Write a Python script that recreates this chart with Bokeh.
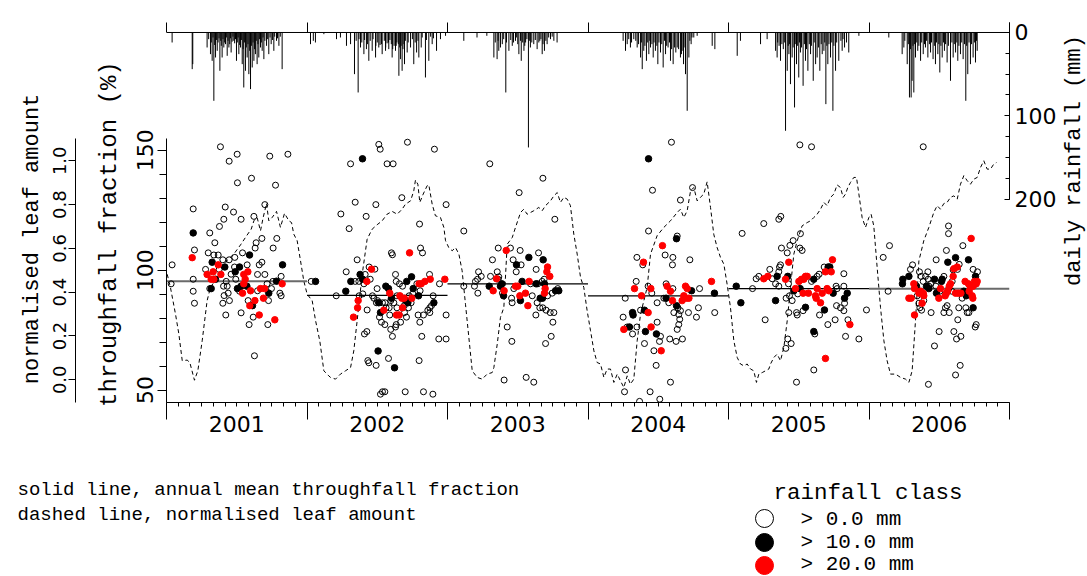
import math
from bokeh.plotting import figure
from bokeh.models import (Range1d, LinearAxis, FixedTicker, SingleIntervalTicker,
                          PrintfTickFormatter)
from bokeh.layouts import column, row
from bokeh.embed import file_html
from bokeh.resources import INLINE
from bokeh.core.properties import value

# ---------------- data ----------------
YEARS = [2001, 2002, 2003, 2004, 2005, 2006]
YEAR_LABEL_POS = [2001.5, 2002.5, 2003.5, 2004.5, 2005.5, 2006.5]
ANNUAL_MEAN_TF = [95.4, 89.5, 94.3, 89.3, 92.3, 92.2]
LEAF_TICKS = [0.0, 0.2, 0.4, 0.6, 0.8, 1.0]
RAIN_TICKS = [0, 100, 200]

# throughfall fraction (%) per event, rainfall class > 0 mm
OPEN_PTS = [
    (2001.384,151.4),(2001.446,145.4),(2001.503,148.3),(2001.735,147.5),(2001.864,148.3),
    (2001.505,136.4),(2001.605,138.3),(2001.776,135.4),(2001.190,125.5),(2001.418,126.3),
    (2001.477,124.2),(2001.700,127.3),(2001.408,121.2),(2001.531,121.2),(2001.622,122.4),
    (2001.377,118.2),(2001.308,115.5),(2001.344,111.4),(2001.679,113.2),(2001.785,113.2),
    (2001.638,111.4),(2001.199,108.4),(2001.631,109.2),(2001.759,109.2),(2001.541,107.2),
    (2001.297,107.2),(2001.337,106.3),(2001.368,106.3),(2001.401,104.3),(2001.446,104.3),
    (2001.486,105.3),(2001.484,101.3),(2001.574,102.2),(2001.660,102.2),(2001.679,103.3),
    (2001.040,102.2),(2001.278,100.3),(2001.375,100.3),(2001.460,98.3),(2001.190,96.2),
    (2001.493,96.2),(2001.648,98.2),(2001.700,98.2),(2001.816,97.4),(2001.757,95.3),
    (2001.716,94.3),(2001.425,95.3),(2001.033,94.3),(2001.308,92.3),(2001.406,93.3),
    (2001.432,93.3),(2001.520,91.2),(2001.648,91.4),(2001.747,92.3),(2001.807,90.4),
    (2001.816,89.3),(2001.190,91.2),(2001.439,90.4),(2001.410,89.4),(2001.581,87.3),
    (2001.726,87.3),(2001.199,86.2),(2001.401,86.2),(2001.448,87.3),(2001.603,85.2),
    (2001.422,81.3),(2001.531,82.2),(2001.617,80.4),(2001.588,77.3),(2001.721,77.3),
    (2001.626,64.3),
    (2002.030,95.3),
    (2002.511,152.4),(2002.521,150.4),(2002.715,153.3),(2002.907,150.4),
    (2002.310,144.3),(2002.570,144.3),(2002.613,144.3),(2002.675,130.2),
    (2002.343,128.3),(2002.490,127.3),(2002.990,127.3),(2002.241,123.4),(2002.421,122.4),
    (2002.801,119.2),(2002.300,117.3),(2002.601,107.2),(2002.608,106.4),(2002.808,109.2),
    (2002.822,107.2),(2002.357,104.3),(2002.442,101.3),(2002.483,100.4),(2002.279,99.3),
    (2002.414,98.2),(2002.450,96.2),(2002.343,95.3),(2002.369,95.3),(2002.405,94.3),
    (2002.630,98.2),(2002.635,95.3),(2002.658,94.3),(2002.680,93.3),(2002.943,94.3),
    (2002.872,98.2),(2002.782,94.3),(2002.499,92.3),(2002.208,89.3),
    (2002.397,90.1),(2002.371,89.3),(2002.476,88.3),(2002.502,87.3),(2002.466,89.3),
    (2002.640,89.3),(2002.727,89.3),(2002.753,90.1),(2002.805,91.4),(2002.898,89.3),
    (2002.596,87.3),(2002.428,83.4),
    (2002.494,86.4),(2002.537,86.4),(2002.556,86.4),(2002.563,84.3),(2002.585,84.3),
    (2002.618,86.4),(2002.640,84.3),(2002.692,85.2),(2002.722,84.3),(2002.741,86.4),
    (2002.874,84.3),(2002.860,83.3),(2002.886,85.2),
    (2002.516,80.4),(2002.589,81.3),(2002.694,82.3),(2002.708,80.4),(2002.791,81.3),
    (2002.829,81.3),(2002.874,82.3),(2002.990,81.3),
    (2002.530,78.3),(2002.554,77.3),(2002.635,77.3),(2002.666,78.3),(2002.803,78.3),
    (2002.596,75.3),(2002.630,76.3),(2002.409,73.4),(2002.426,74.4),(2002.608,72.4),
    (2002.817,72.4),(2002.938,71.3),(2002.990,71.3),
    (2002.433,62.3),(2002.440,61.4),(2002.492,60.3),(2002.580,63.2),(2002.798,62.3),
    (2002.523,48.3),(2002.537,49.3),(2002.554,49.3),(2002.699,49.3),(2002.829,49.3),
    (2002.896,48.3),
    (2003.301,144.3),(2003.116,116.3),(2003.320,104.3),(2003.361,109.2),(2003.116,93.3),
    (2003.192,93.3),(2003.199,95.3),(2003.221,99.3),(2003.240,97.4),(2003.214,96.2),
    (2003.216,90.4),(2003.354,99.3),(2003.365,97.2),(2003.361,96.2),(2003.391,90.4),
    (2003.306,97.4),(2003.403,54.2),
    (2003.679,138.3),(2003.510,132.3),(2003.764,121.2),(2003.448,109.2),(2003.517,108.2),
    (2003.648,107.2),(2003.467,104.3),(2003.524,102.2),(2003.631,100.3),(2003.688,96.2),
    (2003.489,99.3),(2003.472,92.3),(2003.591,94.3),(2003.643,94.3),(2003.674,95.3),
    (2003.456,88.3),(2003.460,86.4),(2003.603,89.3),(2003.712,89.3),(2003.745,90.4),
    (2003.785,92.3),(2003.638,86.4),(2003.678,84.3),(2003.657,84.3),(2003.702,83.3),
    (2003.731,82.3),(2003.757,82.3),(2003.629,81.3),(2003.750,78.3),(2003.425,76.3),
    (2003.458,70.3),(2003.738,72.4),(2003.698,69.4),(2003.560,55.3),(2003.614,53.3),
    (2004.594,153.3),(2004.459,133.3),(2004.431,116.3),(2004.549,106.3),(2004.604,105.3),
    (2004.348,105.3),(2004.390,102.2),(2004.343,95.3),(2004.265,88.3),(2004.428,93.3),
    (2004.454,90.4),(2004.492,86.4),(2004.556,94.3),(2004.604,92.3),(2004.540,88.3),
    (2004.575,86.4),(2004.611,82.3),(2004.601,102.2),(2004.374,83.3),(2004.250,80.4),
    (2004.279,76.3),(2004.317,73.4),(2004.348,76.3),(2004.492,78.3),(2004.516,72.4),
    (2004.509,70.3),(2004.469,66.4),(2004.402,69.4),(2004.485,60.3),(2004.582,71.3),
    (2004.267,58.4),(2004.260,49.3),(2004.442,49.3),(2004.367,45.3),(2004.511,46.2),
    (2004.587,53.3),
    (2004.744,134.4),(2004.658,129.2),(2004.635,114.2),(2004.725,104.3),(2004.794,92.3),
    (2004.658,83.1),(2004.646,81.5),(2004.653,79.5),(2004.646,77.3),(2004.635,75.3),
    (2004.715,82.3),(2004.786,84.3),(2004.772,80.4),(2004.902,82.3),(2004.672,71.3),
    (2004.627,70.3),(2004.640,84.3),
    (2005.508,152.2),(2005.591,151.4),(2005.097,115.3),(2005.251,119.4),(2005.358,121.2),
    (2005.372,122.4),(2005.171,92.3),(2005.261,79.3),(2005.197,96.4),(2005.216,97.4),
    (2005.294,100.3),(2005.311,96.4),(2005.335,94.3),(2005.358,99.3),(2005.363,101.3),
    (2005.370,102.2),(2005.377,109.2),(2005.437,110.3),(2005.460,112.3),(2005.418,107.2),
    (2005.427,94.3),(2005.358,93.3),(2005.410,88.3),(2005.434,89.3),(2005.453,87.3),
    (2005.493,90.1),(2005.591,95.3),(2005.631,97.4),(2005.645,98.3),(2005.681,101.3),
    (2005.766,93.3),(2005.773,92.3),(2005.769,85.2),(2005.797,84.3),(2005.821,83.1),
    (2005.821,98.5),(2005.707,77.3),(2005.759,79.3),(2005.531,83.1),(2005.484,82.3),
    (2005.489,81.3),(2005.429,82.3),(2005.614,73.4),(2005.648,81.3),(2005.607,58.4),
    (2005.484,53.3),(2005.422,71.3),(2005.446,69.4),(2005.408,67.4),(2005.512,115.2),
    (2005.524,108.2),(2005.508,109.2),
    (2005.850,79.3),(2005.833,72.4),(2005.928,71.3),(2005.982,83.4),(2005.826,86.2),
    (2005.821,93.3),
    (2006.386,151.4),(2006.101,105.3),(2006.146,110.2),(2006.136,91.2),(2006.295,100.3),
    (2006.310,102.2),(2006.343,89.3),(2006.355,86.2),(2006.362,84.3),(2006.374,83.3),
    (2006.390,87.3),(2006.359,99.3),(2006.371,97.4),(2006.386,95.3),(2006.402,97.4),
    (2006.419,99.3),(2006.426,93.3),(2006.438,94.3),(2006.442,82.3),(2006.421,96.2),
    (2006.476,93.3),(2006.504,91.2),(2006.533,97.4),(2006.568,92.3),(2006.592,95.3),
    (2006.590,91.2),(2006.599,100.1),(2006.630,100.3),(2006.642,102.4),(2006.551,108.2),
    (2006.478,104.3),(2006.566,118.4),(2006.566,115.2),(2006.668,110.2),(2006.741,100.3),
    (2006.772,99.3),(2006.663,88.3),(2006.639,84.3),(2006.689,84.3),(2006.699,82.3),
    (2006.711,82.3),(2006.556,85.2),(2006.544,84.3),(2006.533,82.3),(2006.571,82.3),
    (2006.632,79.3),(2006.604,74.4),(2006.623,71.3),(2006.654,72.4),(2006.499,74.4),
    (2006.466,68.4),(2006.763,77.3),(2006.756,76.3),(2006.649,60.3),(2006.616,56.3),
    (2006.423,52.4),
]

# rainfall class > 10 mm
BLACK_PTS = [
    (2001.190,115.5),(2001.591,106.3),(2001.325,103.3),(2001.415,101.3),(2001.520,101.3),
    (2001.826,102.2),(2001.489,99.3),(2001.349,96.2),(2001.783,95.4),(2001.318,92.3),
    (2001.505,92.3),(2001.531,93.3),(2001.572,93.3),(2001.728,90.4),(2001.612,85.2),
    (2002.061,95.3),(2002.395,146.4),(2002.378,98.2),(2002.312,95.3),(2002.395,96.2),
    (2002.744,97.2),(2002.710,95.3),(2002.561,93.3),(2002.580,92.3),(2002.276,91.2),
    (2002.601,88.3),(2002.703,87.3),(2002.756,92.3),(2002.794,89.3),(2002.511,86.4),
    (2002.523,82.3),(2002.718,86.4),(2002.903,86.4),(2002.506,66.3),(2002.623,59.3),
    (2003.297,93.3),(2003.377,93.3),(2003.387,94.3),(2003.399,89.3),(2003.491,102.2),
    (2003.579,105.3),(2003.681,104.3),(2003.531,95.3),(2003.631,94.3),(2003.690,94.3),
    (2003.519,87.3),(2003.660,88.3),(2003.676,88.3),(2003.769,91.4),(2003.792,91.4),
    (2004.431,146.4),(2004.556,88.3),(2004.317,82.3),(2004.321,81.3),(2004.402,83.3),
    (2004.295,76.3),(2004.409,74.4),(2004.487,73.4),(2004.630,113.1),(2004.737,91.4),
    (2004.900,90.4),(2004.630,85.2),
    (2005.055,93.3),(2005.088,86.4),(2005.346,97.4),(2005.422,97.4),(2005.335,87.3),
    (2005.465,91.4),(2005.510,92.3),(2005.607,96.2),(2005.709,101.3),(2005.721,101.3),
    (2005.745,90.4),(2005.826,88.3),(2005.683,83.4),(2005.548,84.5),(2005.607,74.4),
    (2005.845,90.4),
    (2006.241,96.2),(2006.238,94.3),(2006.284,97.4),(2006.338,93.3),(2006.409,93.3),
    (2006.426,92.3),(2006.466,96.2),(2006.480,90.4),(2006.516,95.3),(2006.521,96.2),
    (2006.616,105.2),(2006.561,103.3),(2006.708,104.3),(2006.758,97.4),(2006.692,89.3),
    (2006.675,91.2),(2006.741,84.3),
]

# rainfall class > 20 mm
RED_PTS = [
    (2001.183,105.2),(2001.368,102.2),(2001.579,99.3),(2001.550,98.2),(2001.289,98.2),
    (2001.332,99.3),(2001.387,98.2),(2001.318,96.2),(2001.337,96.2),(2001.560,96.2),
    (2001.550,94.3),(2001.823,94.3),(2001.541,90.4),(2001.598,91.4),(2001.669,92.3),
    (2001.698,92.3),(2001.690,88.3),(2001.629,87.3),(2001.593,85.2),(2001.660,81.3),
    (2001.771,79.3),
    (2002.730,107.2),(2002.459,100.4),(2002.426,95.3),(2002.798,94.3),(2002.813,94.3),
    (2002.839,95.3),(2002.877,96.2),(2002.981,96.2),(2002.589,90.4),(2002.661,89.3),
    (2002.675,88.3),(2002.692,88.3),(2002.746,88.3),(2002.364,87.3),(2002.360,84.3),
    (2002.331,80.4),(2002.547,83.3),(2002.680,84.3),(2002.637,81.3),(2002.656,81.3),
    (2003.325,91.4),(2003.349,96.4),(2003.403,91.4),(2003.418,108.2),(2003.712,101.3),
    (2003.707,99.3),(2003.728,97.4),(2003.484,93.3),(2003.500,93.3),(2003.581,95.3),
    (2003.695,92.3),(2003.555,90.4),(2003.515,89.3),(2003.572,85.2),(2003.690,90.4),
    (2004.530,110.2),(2004.395,103.3),(2004.331,92.3),(2004.381,89.3),(2004.447,92.3),
    (2004.563,93.3),(2004.587,91.2),(2004.601,87.3),(2004.428,82.3),(2004.255,75.3),
    (2004.449,76.3),(2004.521,66.4),(2004.694,93.3),(2004.706,92.3),(2004.682,89.3),
    (2004.701,88.3),(2004.718,88.3),(2004.670,87.3),(2004.879,95.3),
    (2005.251,96.4),(2005.280,97.4),(2005.406,96.2),(2005.429,103.3),(2005.477,92.3),
    (2005.501,95.3),(2005.520,96.2),(2005.536,96.2),(2005.548,97.4),(2005.560,97.4),
    (2005.531,90.4),(2005.569,90.4),(2005.631,92.3),(2005.619,89.3),(2005.624,88.3),
    (2005.667,90.4),(2005.655,86.4),(2005.690,99.3),(2005.731,99.3),(2005.740,104.3),
    (2005.702,92.3),(2005.714,91.4),(2005.690,63.2),(2005.864,77.3),
    (2006.319,94.3),(2006.324,92.3),(2006.284,88.3),(2006.300,88.3),(2006.355,90.4),
    (2006.367,91.2),(2006.386,90.4),(2006.390,89.3),(2006.378,86.2),(2006.324,81.3),
    (2006.497,88.3),(2006.509,92.3),(2006.542,89.3),(2006.551,90.4),(2006.561,91.4),
    (2006.571,93.3),(2006.580,94.3),(2006.599,97.4),(2006.604,100.6),(2006.628,101.3),
    (2006.727,113.2),(2006.751,95.3),(2006.741,93.3),(2006.763,94.3),(2006.770,95.3),
    (2006.720,93.3),(2006.708,94.3),(2006.684,95.3),(2006.713,91.2),(2006.734,89.3),
    (2006.739,88.3),(2006.654,90.4),(2006.635,90.4),(2006.616,90.4),
]

# normalised leaf amount (dashed line)
LEAF_PTS = [
    (2001.005,.482),(2001.028,.422),(2001.064,.300),(2001.088,.209),(2001.112,.087),
    (2001.147,.090),(2001.166,.079),(2001.199,-.002),(2001.223,.041),(2001.254,.178),
    (2001.289,.361),(2001.313,.422),(2001.361,.467),(2001.432,.546),(2001.479,.574),
    (2001.527,.616),(2001.562,.650),(2001.603,.688),(2001.622,.726),(2001.645,.741),
    (2001.669,.680),(2001.688,.741),(2001.712,.805),(2001.728,.726),(2001.752,.741),
    (2001.783,.769),(2001.811,.696),(2001.840,.760),(2001.871,.726),(2001.890,.718),
    (2001.906,.665),(2001.930,.635),(2001.954,.543),(2001.977,.452),(2002.001,.391),
    (2002.037,.361),(2002.061,.270),(2002.091,.178),(2002.120,.041),(2002.155,.018),
    (2002.167,.011),(2002.203,.003),(2002.238,.026),(2002.274,.041),(2002.310,.056),
    (2002.333,.132),(2002.357,.270),(2002.393,.482),(2002.428,.642),(2002.464,.688),
    (2002.499,.708),(2002.535,.726),(2002.570,.756),(2002.606,.769),(2002.642,.756),
    (2002.677,.779),(2002.701,.802),(2002.737,.817),(2002.760,.863),(2002.772,.912),
    (2002.789,.893),(2002.803,.810),(2002.827,.848),(2002.855,.886),(2002.867,.890),
    (2002.891,.802),(2002.914,.749),(2002.950,.741),(2002.974,.696),(2002.986,.635),
    (2003.009,.604),(2003.033,.589),(2003.057,.604),(2003.081,.574),(2003.104,.498),
    (2003.128,.345),(2003.152,.193),(2003.176,.041),(2003.211,.011),(2003.247,.003),
    (2003.282,.026),(2003.318,.033),(2003.330,.056),(2003.354,.163),(2003.377,.285),
    (2003.401,.330),(2003.425,.619),(2003.461,.650),(2003.484,.696),(2003.520,.764),
    (2003.543,.779),(2003.567,.756),(2003.591,.764),(2003.614,.772),(2003.650,.787),
    (2003.674,.772),(2003.697,.795),(2003.733,.817),(2003.757,.840),(2003.781,.855),
    (2003.804,.810),(2003.828,.833),(2003.852,.825),(2003.875,.795),(2003.899,.665),
    (2003.923,.574),(2003.947,.467),(2003.970,.422),(2003.994,.315),(2004.018,.224),
    (2004.042,.132),(2004.065,.079),(2004.089,.072),(2004.113,.011),(2004.136,.049),
    (2004.160,.049),(2004.184,-.012),(2004.208,.026),(2004.231,-.005),(2004.255,-.035),
    (2004.279,.018),(2004.302,-.020),(2004.326,.003),(2004.350,.178),(2004.374,.300),
    (2004.421,.422),(2004.445,.574),(2004.492,.658),(2004.540,.696),(2004.587,.726),
    (2004.635,.764),(2004.658,.779),(2004.682,.741),(2004.706,.772),(2004.730,.863),
    (2004.753,.878),(2004.777,.817),(2004.800,.833),(2004.824,.848),(2004.848,.904),
    (2004.872,.787),(2004.895,.665),(2004.919,.604),(2004.943,.559),(2004.967,.528),
    (2004.990,.437),(2005.014,.330),(2005.038,.178),(2005.062,.102),(2005.085,.072),
    (2005.109,.064),(2005.133,.072),(2005.157,.049),(2005.180,.041),(2005.199,-.012),
    (2005.216,.026),(2005.240,.033),(2005.263,.041),(2005.287,.049),(2005.299,.072),
    (2005.323,.102),(2005.346,.117),(2005.370,.087),(2005.394,.148),(2005.418,.270),
    (2005.441,.422),(2005.465,.574),(2005.489,.635),(2005.524,.703),(2005.560,.718),
    (2005.584,.726),(2005.607,.741),(2005.631,.756),(2005.655,.779),(2005.679,.810),
    (2005.702,.795),(2005.726,.833),(2005.750,.848),(2005.773,.890),(2005.797,.878),
    (2005.816,.833),(2005.833,.848),(2005.849,.878),(2005.868,.901),(2005.892,.924),
    (2005.911,.924),(2005.928,.848),(2005.951,.741),(2005.975,.696),(2005.999,.741),
    (2006.015,.756),(2006.034,.703),(2006.058,.513),(2006.082,.330),(2006.106,.178),
    (2006.129,.087),(2006.153,.026),(2006.189,.026),(2006.224,.011),(2006.260,.003),
    (2006.284,-.012),(2006.307,.041),(2006.331,.270),(2006.355,.543),(2006.390,.635),
    (2006.426,.696),(2006.461,.764),(2006.485,.795),(2006.509,.779),(2006.533,.805),
    (2006.556,.810),(2006.580,.833),(2006.604,.840),(2006.628,.825),(2006.651,.893),
    (2006.675,.932),(2006.699,.909),(2006.722,.893),(2006.746,.916),(2006.770,.924),
    (2006.794,.970),(2006.817,1.000),(2006.841,.962),(2006.865,.962),(2006.888,.985),
    (2006.907,.992),
]

# daily rainfall (mm)
RAIN_PTS = [
    (2001.040,12),(2001.183,44),(2001.187,38),(2001.289,18),(2001.313,26),(2001.325,34),
    (2001.337,82),(2001.349,30),(2001.361,22),(2001.380,46),(2001.396,30),(2001.408,18),
    (2001.420,14),(2001.432,28),(2001.444,18),(2001.460,24),(2001.479,10),(2001.498,34),
    (2001.515,26),(2001.527,18),(2001.539,38),(2001.550,66),(2001.562,46),(2001.574,30),
    (2001.586,50),(2001.598,68),(2001.610,42),(2001.622,34),(2001.633,26),(2001.645,38),
    (2001.657,30),(2001.669,18),(2001.681,22),(2001.693,32),(2001.712,16),(2001.728,26),
    (2001.745,14),(2001.764,22),(2001.783,10),(2001.800,16),(2001.823,44),
    (2001.300,8),(2001.319,12),(2001.331,6),(2001.343,15),(2001.355,9),(2001.367,12),
    (2001.374,7),(2001.386,10),(2001.390,16),(2001.402,8),(2001.414,12),(2001.426,6),
    (2001.438,10),(2001.450,14),(2001.455,7),(2001.467,11),(2001.473,5),(2001.485,13),
    (2001.491,8),(2001.504,12),(2001.510,6),(2001.521,15),(2001.533,9),(2001.545,20),
    (2001.556,12),(2001.568,18),(2001.580,14),(2001.592,22),(2001.604,16),(2001.616,12),
    (2001.627,20),(2001.639,10),(2001.651,14),(2001.663,8),(2001.675,12),(2001.687,6),
    (2001.700,10),(2001.720,8),(2001.737,6),(2001.755,9),(2001.770,5),(2001.790,7),
    (2001.810,5),
    (2002.025,14),(2002.045,10),(2002.060,12),(2002.120,2),
    (2002.210,8),(2002.238,6),(2002.281,16),(2002.310,14),(2002.338,50),(2002.364,72),
    (2002.381,18),(2002.405,26),(2002.423,20),(2002.440,34),(2002.464,22),(2002.488,30),
    (2002.511,18),(2002.535,26),(2002.559,22),(2002.582,20),(2002.606,30),(2002.630,22),
    (2002.654,52),(2002.665,32),(2002.677,46),(2002.694,38),(2002.713,24),(2002.737,18),
    (2002.760,38),(2002.780,24),(2002.796,30),(2002.813,18),(2002.843,54),(2002.867,34),
    (2002.891,14),(2002.922,22),(2002.950,8),(2002.986,4),
    (2002.350,10),(2002.370,8),(2002.390,12),(2002.410,9),(2002.430,14),(2002.450,10),
    (2002.470,8),(2002.500,12),(2002.520,15),(2002.550,10),(2002.570,13),(2002.590,9),
    (2002.620,16),(2002.640,12),(2002.660,18),(2002.690,14),(2002.700,10),(2002.720,12),
    (2002.750,8),(2002.770,12),(2002.790,10),(2002.820,6),(2002.850,9),(2002.880,5),
    (2002.900,7),(2002.490,16),(2002.530,14),(2002.560,18),(2002.580,12),(2002.600,14),
    (2002.610,20),(2002.635,16),(2002.650,14),(2002.670,16),(2002.683,20),
    (2003.116,10),(2003.210,6),(2003.280,4),(2003.330,30),(2003.353,32),(2003.365,22),
    (2003.377,18),(2003.390,14),(2003.415,72),(2003.437,22),(2003.461,16),(2003.484,10),
    (2003.508,26),(2003.525,34),(2003.544,22),(2003.556,12),(2003.576,138),(2003.590,18),
    (2003.614,14),(2003.638,20),(2003.657,10),(2003.674,26),(2003.690,22),(2003.709,14),
    (2003.733,8),(2003.757,10),(2003.780,12),
    (2003.340,12),(2003.360,10),(2003.400,8),(2003.420,12),(2003.450,9),(2003.470,12),
    (2003.490,6),(2003.500,14),(2003.520,10),(2003.535,12),(2003.550,16),(2003.565,8),
    (2003.585,10),(2003.600,12),(2003.625,9),(2003.650,12),(2003.665,8),(2003.680,14),
    (2003.700,10),(2003.720,6),(2003.745,5),
    (2004.250,10),(2004.267,22),(2004.279,14),(2004.302,18),(2004.326,8),(2004.350,18),
    (2004.374,30),(2004.386,44),(2004.397,22),(2004.416,34),(2004.433,26),(2004.445,18),
    (2004.464,30),(2004.480,22),(2004.497,38),(2004.516,24),(2004.535,42),(2004.552,26),
    (2004.570,18),(2004.587,34),(2004.606,38),(2004.635,18),(2004.658,30),(2004.680,38),
    (2004.694,50),(2004.706,94),(2004.718,30),(2004.734,14),(2004.753,6),(2004.777,4),
    (2004.884,16),(2004.903,20),
    (2004.290,8),(2004.310,12),(2004.340,10),(2004.360,14),(2004.380,12),(2004.405,16),
    (2004.425,12),(2004.440,10),(2004.455,14),(2004.470,12),(2004.490,16),(2004.505,12),
    (2004.525,14),(2004.545,10),(2004.560,16),(2004.580,12),(2004.595,20),(2004.615,18),
    (2004.625,24),(2004.645,20),(2004.665,26),(2004.670,22),(2004.690,18),(2004.725,10),
    (2004.740,6),
    (2005.062,28),(2005.085,10),(2005.228,14),(2005.275,8),(2005.335,22),(2005.346,30),
    (2005.370,34),(2005.406,118),(2005.418,46),(2005.430,26),(2005.441,62),(2005.453,30),
    (2005.470,90),(2005.484,38),(2005.500,54),(2005.512,24),(2005.531,64),(2005.548,34),
    (2005.565,46),(2005.584,26),(2005.603,58),(2005.620,38),(2005.631,30),(2005.650,46),
    (2005.667,26),(2005.679,22),(2005.693,86),(2005.707,38),(2005.726,30),(2005.743,94),
    (2005.762,46),(2005.785,34),(2005.809,22),(2005.826,18),(2005.840,12),(2005.856,24),
    (2005.928,4),
    (2005.350,12),(2005.360,16),(2005.380,14),(2005.390,20),(2005.400,12),(2005.425,16),
    (2005.435,14),(2005.460,18),(2005.475,14),(2005.490,16),(2005.505,12),(2005.520,18),
    (2005.540,14),(2005.555,20),(2005.575,14),(2005.590,16),(2005.610,12),(2005.640,18),
    (2005.660,14),(2005.685,12),(2005.700,16),(2005.715,14),(2005.735,12),(2005.750,16),
    (2005.770,12),(2005.800,10),(2005.815,8),
    (2006.141,6),(2006.236,26),(2006.248,18),(2006.272,38),(2006.288,78),(2006.300,78),
    (2006.307,58),(2006.319,72),(2006.331,30),(2006.347,22),(2006.367,34),(2006.386,26),
    (2006.402,18),(2006.419,30),(2006.438,24),(2006.456,32),(2006.473,38),(2006.490,26),
    (2006.504,48),(2006.521,30),(2006.537,22),(2006.556,36),(2006.580,58),(2006.599,30),
    (2006.616,24),(2006.632,34),(2006.651,26),(2006.670,32),(2006.689,82),(2006.703,50),
    (2006.722,38),(2006.741,30),(2006.758,36),(2006.770,22),
    (2006.255,10),(2006.280,14),(2006.295,20),(2006.313,16),(2006.325,14),(2006.340,12),
    (2006.355,16),(2006.375,12),(2006.395,14),(2006.410,10),(2006.430,14),(2006.445,12),
    (2006.465,16),(2006.480,12),(2006.497,14),(2006.512,16),(2006.530,12),(2006.545,14),
    (2006.565,16),(2006.590,12),(2006.607,14),(2006.625,12),(2006.640,16),(2006.660,12),
    (2006.680,14),(2006.695,16),(2006.712,12),(2006.730,14),(2006.750,12),(2006.765,10),
]

LEGEND_TITLE = "rainfall class"
LEGEND_LABELS = ["> 0.0 mm", "> 10.0 mm", "> 20.0 mm"]
NOTE_LINES = ["solid line, annual mean throughfall fraction",
              "dashed line, normalised leaf amount"]
RAIN_LABEL = "daily rainfall (mm)"
TF_LABEL = "throughfall fraction (%)"
LEAF_LABEL = "normalised leaf amount"

# ---------------- styling ----------------
TICK_FONT = "DejaVu Sans"
MONO = "Liberation Mono"
MEAN_COLORS = ["#6a6a6a", "black", "black", "black", "black", "#6a6a6a"]
MEAN_WIDTHS = [2, 1.3, 1.3, 1.3, 1.3, 2]

def unzip(pts):
    return [p[0] for p in pts], [p[1] for p in pts]

def plain(fig):
    fig.outline_line_color = None
    fig.background_fill_color = "white"
    fig.border_fill_color = "white"

p = figure(width=1061, height=450,
           x_range=Range1d(2001, 2007), y_range=Range1d(44.83, 203.2),
           x_axis_type=None, y_axis_type=None,
           output_backend="svg", toolbar_location=None,
           min_border_left=166, min_border_right=52,
           min_border_top=22, min_border_bottom=48)
plain(p)
p.frame_align = False
p.extra_y_ranges = {"leaf": Range1d(-0.1037, 1.6315),
                    "rain": Range1d(444.2, -12)}

def style_axis(ax, size="22px"):
    ax.major_label_text_font = TICK_FONT
    ax.major_label_text_font_size = size
    ax.major_label_text_color = "black"
    ax.axis_label_text_font = MONO
    ax.axis_label_text_font_style = "normal"
    ax.axis_label_text_color = "black"
    ax.axis_line_color = "black"
    ax.major_tick_line_color = "black"
    ax.minor_tick_line_color = "black"

blank = PrintfTickFormatter(format="")

# throughfall axis (inner left); trailing blanks shift the centred title downward
tf_axis = LinearAxis(ticker=SingleIntervalTicker(interval=50, num_minor_ticks=5),
                     bounds=(44.83, 154.7), axis_label=TF_LABEL + "   ")
style_axis(tf_axis)
tf_axis.major_label_orientation = "vertical"
tf_axis.major_tick_out = 9
tf_axis.major_tick_in = 0
tf_axis.minor_tick_out = 7
tf_axis.minor_tick_in = 0
tf_axis.major_label_standoff = 4
tf_axis.axis_label_standoff = 12
tf_axis.axis_label_text_font_size = "24px"
p.add_layout(tf_axis, "left")

# invisible spacer between the two left axes
spacer = LinearAxis(ticker=FixedTicker(ticks=[100]), formatter=blank,
                    axis_line_color=None, major_tick_line_color=None,
                    minor_tick_line_color=None, major_tick_out=17, major_tick_in=0,
                    minor_tick_out=0, minor_tick_in=0, major_label_standoff=0,
                    major_label_text_font_size="1px")
p.add_layout(spacer, "left")

# normalised leaf amount axis (outer left)
leaf_axis = LinearAxis(y_range_name="leaf", ticker=FixedTicker(ticks=LEAF_TICKS),
                       formatter=PrintfTickFormatter(format="%.1f"),
                       bounds=(-0.1037, 1.1), axis_label=LEAF_LABEL + "    ")
style_axis(leaf_axis, "18px")
leaf_axis.major_label_orientation = "vertical"
leaf_axis.major_tick_out = 7
leaf_axis.major_tick_in = 0
leaf_axis.major_label_standoff = 2
leaf_axis.axis_label_standoff = 6
leaf_axis.axis_label_text_font_size = "22px"
p.add_layout(leaf_axis, "left")

# daily rainfall axis (right)
rain_axis = LinearAxis(y_range_name="rain",
                       ticker=SingleIntervalTicker(interval=100, num_minor_ticks=4),
                       bounds=(-12, 200))
style_axis(rain_axis)
rain_axis.major_tick_in = 5
rain_axis.major_tick_out = 0
rain_axis.minor_tick_in = 4
rain_axis.minor_tick_out = 0
rain_axis.major_label_standoff = 5
p.add_layout(rain_axis, "right")

# bottom axis: year boundaries and months
xb = LinearAxis(ticker=SingleIntervalTicker(interval=1, num_minor_ticks=12),
                formatter=blank)
style_axis(xb, "1px")
xb.major_tick_out = 17
xb.major_tick_in = 0
xb.minor_tick_out = 4
xb.minor_tick_in = 0
xb.major_label_standoff = 0
p.add_layout(xb, "below")

# bottom axis: year labels at mid-year
xl = LinearAxis(ticker=FixedTicker(ticks=YEAR_LABEL_POS),
                formatter=PrintfTickFormatter(format="%d"))
style_axis(xl, "22px")
xl.axis_line_color = None
xl.major_tick_line_color = None
xl.minor_tick_line_color = None
xl.major_tick_out = 0
xl.major_tick_in = 0
xl.minor_tick_out = 0
xl.minor_tick_in = 0
xl.major_label_standoff = -4
p.add_layout(xl, "below")

# top axis: year boundary ticks of the rainfall panel
xt = LinearAxis(ticker=SingleIntervalTicker(interval=1, num_minor_ticks=0),
                formatter=blank)
style_axis(xt, "1px")
xt.axis_line_color = None
xt.major_tick_in = 10
xt.major_tick_out = 0
xt.minor_tick_line_color = None
xt.major_label_standoff = 0
p.add_layout(xt, "above")

# rainfall bars hanging from the zero line
rd, rv = unzip(RAIN_PTS)
p.segment(x0=rd, x1=rd, y0=[0] * len(rd), y1=rv, y_range_name="rain",
          line_color="black", line_width=1)
p.segment(x0=[YEARS[0]], x1=[YEARS[-1] + 1], y0=[RAIN_TICKS[0]], y1=[RAIN_TICKS[0]],
          y_range_name="rain", line_color="black", line_width=1)

# normalised leaf amount
ld, lv = unzip(LEAF_PTS)
p.line(ld, lv, y_range_name="leaf", line_color="black", line_width=1,
       line_dash="4 3")

# annual mean throughfall fraction
p.segment(x0=YEARS, x1=[y + 1 for y in YEARS], y0=ANNUAL_MEAN_TF, y1=ANNUAL_MEAN_TF,
          line_color=MEAN_COLORS, line_width=MEAN_WIDTHS)

# events
ox, oy = unzip(OPEN_PTS)
p.scatter(ox, oy, marker="circle", size=6, fill_color=None,
          line_color="black", line_width=1)
bx, by = unzip(BLACK_PTS)
p.scatter(bx, by, marker="circle", size=6.5, fill_color="black",
          line_color="black", line_width=1)
qx, qy = unzip(RED_PTS)
p.scatter(qx, qy, marker="circle", size=6.5, fill_color="red",
          line_color="red", line_width=1)

# ---------------- right strip: rainfall axis title ----------------
r = figure(width=26, height=450, x_range=Range1d(0, 26), y_range=Range1d(450, 0),
           x_axis_type=None, y_axis_type=None, output_backend="svg",
           toolbar_location=None, min_border=0)
plain(r)
r.frame_align = False
r.text(x=[13], y=[160], text=[RAIN_LABEL], angle=math.pi / 2,
       text_font=value(MONO), text_font_size="22px", text_color="black",
       text_align="center", text_baseline="alphabetic")

# ---------------- bottom strip: notes and legend ----------------
b = figure(width=1087, height=126, x_range=Range1d(0, 1087), y_range=Range1d(126, 0),
           x_axis_type=None, y_axis_type=None, output_backend="svg",
           toolbar_location=None, min_border=0)
plain(b)
b.frame_align = False
b.text(x=[17, 17], y=[39, 64], text=NOTE_LINES, text_font=value(MONO),
       text_font_size="19px", text_baseline="alphabetic", text_color="black")
b.text(x=[773], y=[42], text=[LEGEND_TITLE], text_font=value(MONO),
       text_font_size="22.5px", text_baseline="alphabetic", text_color="black")
b.scatter(x=[764, 764, 764], y=[68, 92, 115], marker="circle", size=18,
          fill_color=["white", "black", "red"], line_color=["black", "black", "red"],
          line_width=1)
b.text(x=[800, 800, 800], y=[69, 92, 114], text=LEGEND_LABELS, text_font=value(MONO),
       text_font_size="21px", text_baseline="alphabetic", text_color="black")

layout = column(row(p, r), b)
open("out.html", "w").write(file_html(layout, INLINE))
